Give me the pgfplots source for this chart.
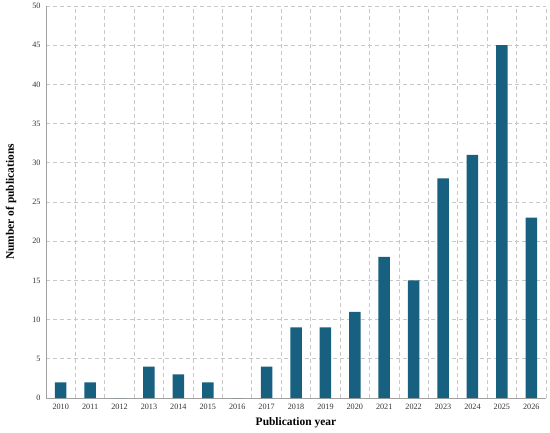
\documentclass[border=0pt]{standalone}
\usepackage{pgfplots}
\pgfplotsset{compat=1.18}
\usepackage{fontspec}
\setmainfont{Liberation Serif}
\definecolor{barc}{RGB}{24,96,128}
\definecolor{gridc}{RGB}{200,200,200}
\definecolor{axc}{RGB}{160,160,160}
\begin{document}
\begin{tikzpicture}[x=1bp,y=1bp]
\useasboundingbox (0,0) rectangle (550,432);
\begin{axis}[
  at={(46bp,34bp)}, anchor=south west,
  scale only axis, width=500bp, height=392bp,
  ybar, bar width=11.5bp,
  xmin=-0.5, xmax=16.5, ymin=0, ymax=50,
  xtick={0,...,16},
  xticklabels={2010,2011,2012,2013,2014,2015,2016,2017,2018,2019,2020,2021,2022,2023,2024,2025,2026},
  minor xtick={0.5,1.5,...,16.5},
  ytick={0,5,...,50},
  major tick length=0pt, minor tick length=0pt,
  xminorgrids=true, ymajorgrids=true, xmajorgrids=false,
  grid style={gridc, dash pattern=on 4bp off 3bp, line width=0.8bp},
  minor grid style={gridc, dash pattern=on 4bp off 3bp, line width=0.8bp},
  axis x line*=bottom, axis y line*=left,
  axis line style={axc, line width=1bp, -},
  /pgf/number format/assume math mode=true,
  ticklabel style={font=\fontsize{8.2}{10}\selectfont, text=black!80},
  yticklabel style={xshift=-2bp},
  xticklabel style={yshift=-3bp},
  xlabel={Publication year},
  ylabel={Number of publications},
  label style={font=\fontsize{11.5}{13}\selectfont\bfseries},
  xlabel style={at={(axis description cs:0.5,-0.062)}, anchor=center},
  ylabel style={at={(axis description cs:-0.070,0.5)}, anchor=center},
]
\addplot[fill=barc, draw=none] coordinates {
(0,2) (1,2) (2,0) (3,4) (4,3) (5,2) (6,0) (7,4) (8,9) (9,9) (10,11) (11,18) (12,15) (13,28) (14,31) (15,45) (16,23)};
\end{axis}
\end{tikzpicture}
\end{document}
